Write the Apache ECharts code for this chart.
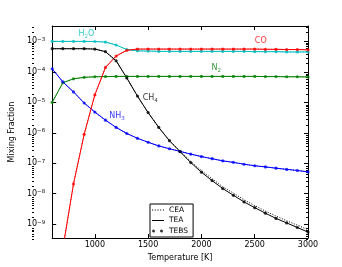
<!DOCTYPE html>
<html><head><meta charset="utf-8">
<script src="https://cdn.jsdelivr.net/npm/echarts@6/dist/echarts.min.js"></script>
<style>html,body{margin:0;padding:0;background:#fff}#c{width:342px;height:267px}</style>
</head><body><div id="c"></div>
<script>
// Temperatures [K]
const temperatures = [600,700,800,900,1000,1100,1200,1300,1400,1500,1600,1700,1800,1900,2000,2100,2200,2300,2400,2500,2600,2700,2800,2900,3000];
// Mixing fractions
const H2O = [1.0e-3,1.0e-3,1.0e-3,1.0e-3,9.9e-4,9.5e-4,7.6e-4,5.4e-4,4.9e-4,4.8e-4,4.7e-4,4.7e-4,4.7e-4,4.7e-4,4.7e-4,4.7e-4,4.7e-4,4.7e-4,4.7e-4,4.6e-4,4.6e-4,4.6e-4,4.5e-4,4.5e-4,4.5e-4];
const CH4_TEA = [5.75e-4,5.75e-4,5.75e-4,5.75e-4,5.6e-4,4.6e-4,2.3e-4,6.3e-5,1.6e-5,4.6e-6,1.5e-6,5.5e-7,2.4e-7,1.05e-7,5.1e-8,2.7e-8,1.48e-8,8.9e-9,5.4e-9,3.5e-9,2.3e-9,1.55e-9,1.1e-9,7.8e-10,5.5e-10];
const CH4_CEA = [5.75e-4,5.75e-4,5.75e-4,5.75e-4,5.6e-4,4.6e-4,2.3e-4,6.3e-5,1.6e-5,4.6e-6,1.5e-6,5.5e-7,2.5e-7,1.15e-7,5.8e-8,3.1e-8,1.7e-8,1.05e-8,6.3e-9,4.1e-9,2.7e-9,1.85e-9,1.3e-9,9.3e-10,6.6e-10];
const CO = [1e-12,1.6e-10,2.1e-8,8.9e-7,1.75e-5,1.4e-4,3.3e-4,5.1e-4,5.6e-4,5.6e-4,5.6e-4,5.6e-4,5.6e-4,5.6e-4,5.6e-4,5.6e-4,5.6e-4,5.6e-4,5.6e-4,5.6e-4,5.5e-4,5.5e-4,5.4e-4,5.4e-4,5.3e-4];
const N2 = [1.0e-5,4.4e-5,5.9e-5,6.6e-5,6.9e-5,7.0e-5,7.1e-5,7.1e-5,7.1e-5,7.1e-5,7.1e-5,7.1e-5,7.1e-5,7.1e-5,7.1e-5,7.1e-5,7.1e-5,7.1e-5,7.1e-5,7.1e-5,7.0e-5,7.0e-5,6.9e-5,6.9e-5,6.8e-5];
const NH3 = [1.26e-4,4.7e-5,2.2e-5,9.5e-6,4.8e-6,2.6e-6,1.5e-6,9.5e-7,6.6e-7,4.9e-7,3.7e-7,3.0e-7,2.45e-7,2.0e-7,1.66e-7,1.41e-7,1.2e-7,1.07e-7,9.3e-8,8.3e-8,7.6e-8,6.9e-8,6.3e-8,5.8e-8,5.2e-8];
// Curve labels
const labelNames = [['H','2','O'],['CO','',''],['N','2',''],['CH','4',''],['NH','3','']];
const labelT = [922, 2557, 2140, 1520, 1209];
const labelV = [1.78e-3, 1.05e-3, 1.33e-4, 1.38e-5, 3.5e-6];
// Axis ticks
const xTicks = [1000,1500,2000,2500,3000];
const yTickExp = [-9,-8,-7,-6,-5,-4,-3];
const legendNames = ['CEA','TEA','TEBS'];

const FONT = 'DejaVu Sans';
const X_MIN = 600, X_MAX = 3000;
const Y_MIN = Math.log10(3.5e-10), Y_MAX = Math.log10(3.2e-3);
const L = v => Math.log10(v);
const pts = arr => temperatures.map((t, i) => [t, L(arr[i])]);

const colors = {H2O:'#00BFBF', CH4:'#000000', CO:'#FF0000', N2:'#008000', NH3:'#0000FF'};
const species = [
  {key:'H2O', cea:H2O, tea:H2O, tebs:H2O},
  {key:'N2', cea:N2, tea:N2, tebs:N2},
  {key:'NH3', cea:NH3, tea:NH3, tebs:NH3},
  {key:'CO', cea:CO, tea:CO, tebs:CO},
  {key:'CH4', cea:CH4_CEA, tea:CH4_TEA, tebs:CH4_TEA}
];
const labelColors = ['#00BFBF','#FF0000','#008000','#000000','#0000FF'];

const series = [];
species.forEach(s => {
  const c = colors[s.key];
  series.push({type:'line', name:s.key+' CEA', data:pts(s.cea), symbol:'none', silent:true,
    lineStyle:{color:c, width:1, type:[1,1.6]}, z:2});
  series.push({type:'line', name:s.key+' TEA', data:pts(s.tea), symbol:'none', silent:true,
    lineStyle:{color:c, width:1}, z:3});
  series.push({type:'scatter', name:s.key+' TEBS', data:pts(s.tebs), symbol:'circle', symbolSize:3.2, silent:true,
    itemStyle:{color:c}, z:4});
});
// legend dummies
series.push({type:'line', name:'CEA', data:[], symbol:'none', lineStyle:{color:'#000', width:1, type:[1,1.6]}, itemStyle:{color:'#000'}});
series.push({type:'line', name:'TEA', data:[], symbol:'none', lineStyle:{color:'#000', width:1}, itemStyle:{color:'#000'}});
series.push({type:'scatter', name:'TEBS', data:[], symbolSize:3, itemStyle:{color:'#000'}});
// curve labels
series.push({type:'scatter', name:'labels', symbolSize:0, silent:true, z:6,
  data: labelNames.map((n, i) => ({
    value:[labelT[i], L(labelV[i])],
    label:{show:true, position:'inside', fontFamily:FONT, fontSize:8, color:labelColors[i],
      formatter: '{m|' + n[0] + '}' + (n[1] ? '{s|' + n[1] + '}' : '') + (n[2] ? '{m|' + n[2] + '}' : ''),
      rich:{m:{fontFamily:FONT, fontSize:8, lineHeight:11, color:labelColors[i]},
            s:{fontFamily:FONT, fontSize:5.5, lineHeight:6, verticalAlign:'bottom', color:labelColors[i]}}}
  }))
});

const minorY = [];
for (let e = -10; e <= -3; e++) for (let k = 2; k <= 9; k++) {
  const v = e + Math.log10(k);
  if (v > Y_MIN && v < Y_MAX) minorY.push(v);
}

// legend icon paths (drawn by the legend itself)
let dotted = 'path://';
for (let x = 0; x < 12; x += 2.6) dotted += 'M' + x.toFixed(1) + ',0h1v1h-' + '1z';
const solid = 'path://M0,0h12v1h-12z';
const twoDots = 'path://M1.5,0a1.5,1.5 0 1,0 0.01,0zM9.5,0a1.5,1.5 0 1,0 0.01,0zM0,0.1h0.01v0.01h-0.01zM12,0.1h0.01v0.01h-0.01z';

const axisLine = {show:true, lineStyle:{color:'#000', width:1}};
const gridBox = {left:32, right:34, top:26, bottom:26};
const option = {
  animation:false,
  backgroundColor:'#fff',
  grid:[Object.assign({}, gridBox), Object.assign({}, gridBox)],
  legend:{
    data:[{name:legendNames[0], icon:dotted},{name:legendNames[1], icon:solid},{name:legendNames[2], icon:twoDots}],
    orient:'vertical', left:150, top:204, itemWidth:12, itemHeight:8, itemGap:2.5,
    padding:[2,5,2,2], borderColor:'#000', borderWidth:1, borderRadius:0, backgroundColor:'#fff',
    selectedMode:false, textStyle:{fontFamily:FONT, fontSize:7.5, color:'#000'}
  },
  xAxis:[
    {type:'value', gridIndex:0, position:'bottom', min:X_MIN, max:X_MAX,
     name:'Temperature [K]', nameLocation:'middle', nameGap:11,
     nameTextStyle:{fontFamily:FONT, fontSize:8, color:'#000'},
     axisLine:axisLine, splitLine:{show:false},
     axisTick:{inside:true, length:4, customValues:xTicks, lineStyle:{color:'#000'}},
     axisLabel:{customValues:xTicks, margin:3, fontFamily:FONT, fontSize:8, color:'#000', formatter:v=>String(v)}},
    {type:'value', gridIndex:0, position:'top', min:X_MIN, max:X_MAX,
     axisLine:axisLine, splitLine:{show:false},
     axisTick:{inside:true, length:4, customValues:xTicks, lineStyle:{color:'#000'}},
     axisLabel:{show:false}},
    {type:'value', gridIndex:1, show:false, min:X_MIN, max:X_MAX}
  ],
  yAxis:[
    {type:'value', gridIndex:0, position:'left', min:Y_MIN, max:Y_MAX,
     name:'Mixing Fraction', nameLocation:'middle', nameGap:28,
     nameTextStyle:{fontFamily:FONT, fontSize:8, color:'#000'},
     axisLine:axisLine, splitLine:{show:false},
     axisTick:{inside:true, length:4, customValues:yTickExp, lineStyle:{color:'#000'}},
     axisLabel:{customValues:yTickExp, margin:7, color:'#000',
       formatter: v => '{b|10}{p|\u2212' + Math.round(-v) + '}',
       rich:{b:{fontFamily:FONT, fontSize:8, lineHeight:10, color:'#000'},
             p:{fontFamily:FONT, fontSize:5.5, lineHeight:5, verticalAlign:'top', color:'#000'}}}},
    {type:'value', gridIndex:0, position:'right', min:Y_MIN, max:Y_MAX,
     axisLine:axisLine, splitLine:{show:false},
     axisTick:{inside:true, length:4, customValues:yTickExp, lineStyle:{color:'#000'}},
     axisLabel:{show:false}},
    {type:'value', gridIndex:1, position:'left', min:Y_MIN, max:Y_MAX,
     axisLine:{show:false}, splitLine:{show:false},
     axisTick:{inside:true, length:2, customValues:minorY, lineStyle:{color:'#000'}},
     axisLabel:{show:false}},
    {type:'value', gridIndex:1, position:'right', min:Y_MIN, max:Y_MAX,
     axisLine:{show:false}, splitLine:{show:false},
     axisTick:{inside:true, length:2, customValues:minorY, lineStyle:{color:'#000'}},
     axisLabel:{show:false}}
  ],
  series: series
};
const chart = echarts.init(document.getElementById('c'), null, {renderer:'canvas'});
chart.setOption(option);
</script>
</body></html>
